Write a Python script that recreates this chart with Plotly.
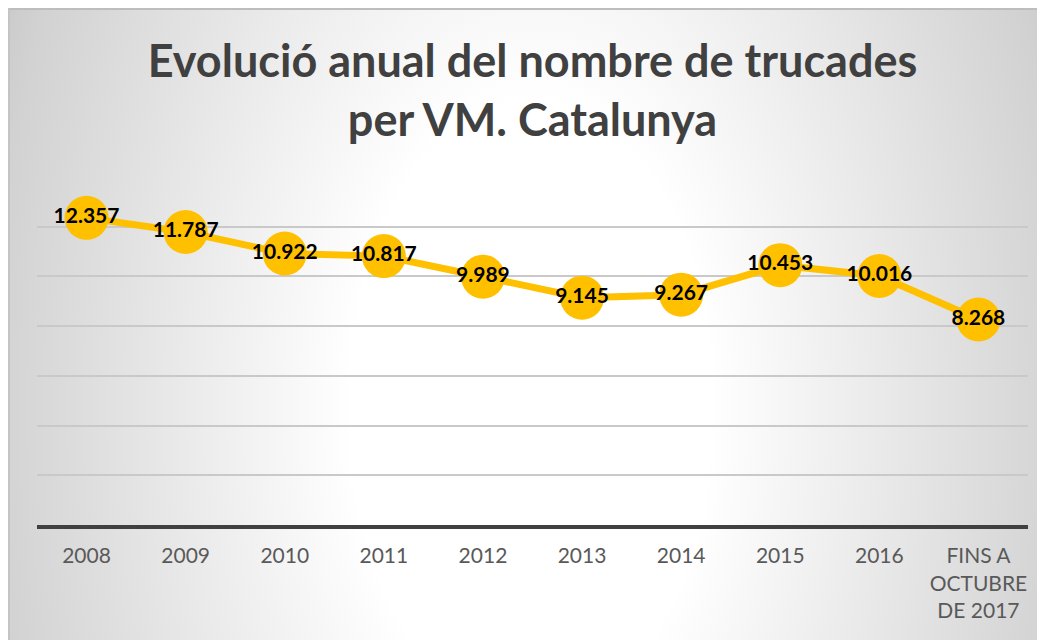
import base64
import plotly.graph_objects as go

categories = ["2008", "2009", "2010", "2011", "2012", "2013", "2014", "2015", "2016",
              "FINS A<br>OCTUBRE<br>DE 2017"]
values = [12.357, 11.787, 10.922, 10.817, 9.989, 9.145, 9.267, 10.453, 10.016, 8.268]
labels = ["12.357", "11.787", "10.922", "10.817", "9.989", "9.145", "9.267", "10.453", "10.016", "8.268"]
title_text = "Evolució anual del nombre de trucades<br>per VM. Catalunya"

# The page has an 8px body margin, so the figure is sized to fit the window.
W, H = 1037, 632
ml, mr, mt, mb = 29, 17, 169, 115
pw, ph = W - ml - mr, H - mt - mb

cx, cy = 523, 400
svg = f'''<svg xmlns="http://www.w3.org/2000/svg" width="{W}" height="{H}" viewBox="0 0 {W} {H}" preserveAspectRatio="none">
<defs><radialGradient id="g" gradientUnits="userSpaceOnUse" cx="{cx}" cy="{cy}" r="600"
 gradientTransform="translate({cx},{cy}) scale(1,1.7) translate({-cx},{-cy})">
<stop offset="0" stop-color="#ffffff"/><stop offset="0.3" stop-color="#ffffff"/>
<stop offset="0.9" stop-color="#d2d2d2"/><stop offset="1" stop-color="#c6c6c6"/></radialGradient></defs>
<rect x="0" y="0" width="{W}" height="{H}" fill="url(#g)"/></svg>'''
src = "data:image/svg+xml;base64," + base64.b64encode(svg.encode()).decode()

fx0 = (0 - ml) / pw
fy1 = (H - mb) / ph
fx1 = (W - ml) / pw

fig = go.Figure()
fig.add_trace(go.Scatter(
    x=list(range(len(categories))), y=values, mode="lines+markers+text",
    line=dict(color="#FFC000", width=7),
    marker=dict(color="#FFC000", size=44),
    text=labels, textposition="middle center",
    textfont=dict(family="Lato", size=21, color="#000000", weight="bold"),
    cliponaxis=False, hoverinfo="skip", showlegend=False,
))

fig.update_layout(
    width=W, height=H,
    margin=dict(l=ml, r=mr, t=mt, b=mb),
    paper_bgcolor="#ffffff", plot_bgcolor="rgba(0,0,0,0)",
    title=dict(text=title_text, x=0.5, xref="paper", y=1 - 69 / H, yref="container",
               xanchor="center", yanchor="middle",
               font=dict(family="Lato", size=45, color="#404040", weight="bold")),
    images=[dict(source=src, xref="paper", yref="paper", x=fx0, y=fy1,
                 sizex=W / pw, sizey=H / ph, xanchor="left", yanchor="top",
                 sizing="stretch", layer="below")],
    shapes=[
        dict(type="line", xref="paper", yref="paper", x0=fx0, x1=fx1, y0=fy1 - 1 / ph, y1=fy1 - 1 / ph,
             line=dict(color="#bdbdbd", width=2), layer="below"),
        dict(type="line", xref="paper", yref="paper", x0=fx0 + 1 / pw, x1=fx0 + 1 / pw,
             y0=fy1, y1=fy1 - H / ph, line=dict(color="#c4c4c4", width=2), layer="below"),
    ],
    xaxis=dict(tickmode="array", tickvals=list(range(len(categories))), ticktext=categories,
               range=[-0.5, len(categories) - 0.5], showgrid=False, zeroline=False,
               showline=True, linecolor="#404040", linewidth=4, ticks="",
               ticklabelstandoff=9,
               tickfont=dict(family="Lato", size=21, color="#595959")),
    yaxis=dict(range=[0, 14], dtick=2, showticklabels=False, showgrid=True,
               gridcolor="#c9c9c9", gridwidth=1.5, zeroline=False, showline=False, ticks=""),
)

fig.write_html("out.html")
